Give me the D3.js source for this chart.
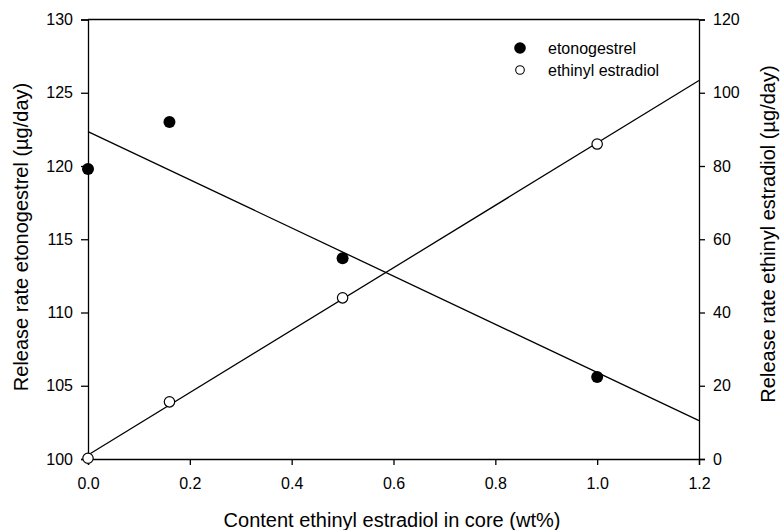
<!DOCTYPE html>
<html><head><meta charset="utf-8">
<script src="https://cdn.jsdelivr.net/npm/d3@7"></script>
<style>
body{margin:0;background:#fff;}
svg{display:block;font-family:"Liberation Sans",Arial,sans-serif;}
</style></head>
<body><svg id="chart" width="782" height="530"></svg>
<script>
// data
const contentEE = [0, 0.16, 0.5, 1.0];
const etonogestrel = [119.8, 123.0, 113.7, 105.6];
const ethinylEstradiol = [0.2, 15.6, 44.0, 86.0];
const xTicks = [0, 0.2, 0.4, 0.6, 0.8, 1.0, 1.2];
const leftTicks = [100, 105, 110, 115, 120, 125, 130];
const rightTicks = [0, 20, 40, 60, 80, 100, 120];
const seriesNames = ["etonogestrel", "ethinyl estradiol"];

const svg = d3.select("#chart");
const L = 88, R = 699, T = 19.5, B = 459;
const x = d3.scaleLinear().domain([0, 1.2]).range([L, R]);
const yL = d3.scaleLinear().domain([100, 130]).range([B, T]);
const yR = d3.scaleLinear().domain([0, 120]).range([B, T]);

function fit(xs, ys) {
  const mx = d3.mean(xs), my = d3.mean(ys);
  let sxy = 0, sxx = 0;
  xs.forEach((v, i) => { sxy += (v - mx) * (ys[i] - my); sxx += (v - mx) * (v - mx); });
  const b = sxy / sxx; return { a: my - b * mx, b };
}

// frame top
svg.append("line").attr("x1", L).attr("x2", R).attr("y1", T).attr("y2", T).attr("stroke", "#000").attr("stroke-width", 1.3);

const fs = "16px";
const gx = svg.append("g").attr("transform", `translate(0,${B})`)
  .call(d3.axisBottom(x).tickValues(xTicks).tickFormat(d3.format(".1f")).tickSizeOuter(0).tickSize(6).tickPadding(13));
const gl = svg.append("g").attr("transform", `translate(${L},0)`)
  .call(d3.axisLeft(yL).tickValues(leftTicks).tickSizeOuter(0).tickSize(7).tickPadding(8));
const gr = svg.append("g").attr("transform", `translate(${R},0)`)
  .call(d3.axisRight(yR).tickValues(rightTicks).tickSizeOuter(0).tickSize(6).tickPadding(8));
[gx, gl, gr].forEach(g => {
  g.selectAll("path").attr("stroke", "#000").attr("stroke-width", 1.3);
  g.selectAll("line").attr("stroke", "#000").attr("stroke-width", 1.3);
  g.selectAll("text").attr("font-size", fs).attr("fill", "#000").attr("font-family", "Liberation Sans, Arial, sans-serif");
});

// regression lines
const f1 = fit(contentEE, etonogestrel);
const f2 = fit(contentEE, ethinylEstradiol);
svg.append("line").attr("x1", x(0)).attr("y1", yL(f1.a)).attr("x2", x(1.2)).attr("y2", yL(f1.a + f1.b * 1.2))
  .attr("stroke", "#000").attr("stroke-width", 1.3);
svg.append("line").attr("x1", x(0)).attr("y1", yR(f2.a)).attr("x2", x(1.2)).attr("y2", yR(f2.a + f2.b * 1.2))
  .attr("stroke", "#000").attr("stroke-width", 1.3);

// points
svg.selectAll(".pe").data(contentEE).enter().append("circle")
  .attr("cx", d => x(d)).attr("cy", (d, i) => yL(etonogestrel[i])).attr("r", 6).attr("fill", "#000");
svg.selectAll(".po").data(contentEE).enter().append("circle")
  .attr("cx", d => x(d)).attr("cy", (d, i) => yR(ethinylEstradiol[i])).attr("r", 5.2)
  .attr("fill", "#fff").attr("stroke", "#000").attr("stroke-width", 1.2);

// legend
const lg = svg.append("g");
lg.append("circle").attr("cx", 520).attr("cy", 48).attr("r", 5.8).attr("fill", "#000");
lg.append("circle").attr("cx", 520).attr("cy", 70).attr("r", 4.3).attr("fill", "#fff").attr("stroke", "#000").attr("stroke-width", 1.1);
lg.append("text").attr("x", 548).attr("y", 54).attr("font-size", "16px").text(seriesNames[0]);
lg.append("text").attr("x", 548).attr("y", 76).attr("font-size", "16px").text(seriesNames[1]);

// titles
svg.append("text").attr("x", 392).attr("y", 527).attr("text-anchor", "middle").attr("font-size", "20px")
  .text("Content ethinyl estradiol in core (wt%)");
svg.append("text").attr("transform", `translate(27.5,237) rotate(-90)`).attr("text-anchor", "middle").attr("font-size", "20px")
  .text("Release rate etonogestrel (µg/day)");
svg.append("text").attr("transform", `translate(775,234) rotate(-90)`).attr("text-anchor", "middle").attr("font-size", "20px")
  .text("Release rate ethinyl estradiol (µg/day)");
</script></body></html>
